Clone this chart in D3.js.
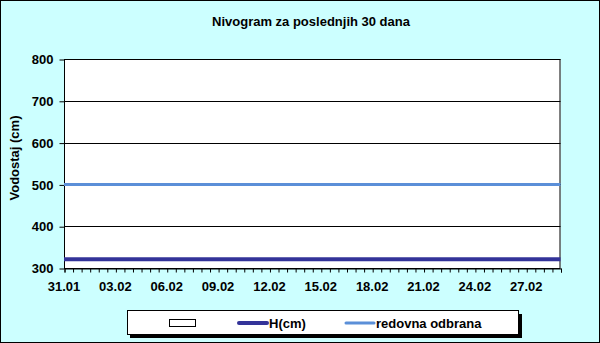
<!DOCTYPE html>
<html>
<head>
<meta charset="utf-8">
<script src="https://cdn.jsdelivr.net/npm/d3@7"></script>
<style>
  body { margin: 0; padding: 0; background: #fff; }
  svg { display: block; font-family: "Liberation Sans", Arial, sans-serif; }
</style>
</head>
<body>
<svg id="chart" width="600" height="343"></svg>
<script>
(function(d3) {
	'use strict';

	// dani (31.01 - 01.03)
	var days = ['31.01', '01.02', '02.02', '03.02', '04.02', '05.02', '06.02', '07.02', '08.02', '09.02',
		'10.02', '11.02', '12.02', '13.02', '14.02', '15.02', '16.02', '17.02', '18.02', '19.02',
		'20.02', '21.02', '22.02', '23.02', '24.02', '25.02', '26.02', '27.02', '28.02', '01.03'];
	// vodostaj H(cm)
	var levels = [321, 321, 321, 321, 321, 321, 321, 321, 321, 321,
		321, 321, 321, 321, 321, 321, 321, 321, 321, 321,
		321, 321, 321, 321, 321, 321, 321, 321, 321, 321];
	// redovna odbrana
	var defenceLevel = [500, 500, 500, 500, 500, 500, 500, 500, 500, 500,
		500, 500, 500, 500, 500, 500, 500, 500, 500, 500,
		500, 500, 500, 500, 500, 500, 500, 500, 500, 500];
	var yTicks = [300, 400, 500, 600, 700, 800];
	var xLabelDays = ['31.01', '03.02', '06.02', '09.02', '12.02', '15.02', '18.02', '21.02', '24.02', '27.02'];

	var parseDay = function(s) {
		var p = s.split('.');
		return new Date(2015, +p[1] - 1, +p[0]);
	};
	var dates = days.map(parseDay);

	var svg = d3.select('#chart');
	var W = 600, H = 343;
	var plot = {left: 64, right: 560.5, top: 59, bottom: 268};
	var hColor = '#333399', odbranaColor = '#5B8FD8';

	svg.append('rect').attr('x', 0.5).attr('y', 0.5).attr('width', W - 1).attr('height', H - 1)
		.attr('fill', '#CCFFFF').attr('stroke', '#000').attr('stroke-width', 1);

	var x = d3.scaleTime().domain([dates[0], dates[dates.length - 1]]).range([plot.left, plot.right]);
	var y = d3.scaleLinear().domain([300, 800]).range([plot.bottom, plot.top]);

	svg.append('rect').attr('x', plot.left).attr('y', plot.top)
		.attr('width', plot.right - plot.left).attr('height', plot.bottom - plot.top)
		.attr('fill', '#fff');

	// gridlines
	svg.append('g').selectAll('line').data(yTicks.slice(1)).enter().append('line')
		.attr('x1', plot.left).attr('x2', plot.right)
		.attr('y1', function(d) { return Math.round(y(d)) + 0.5; })
		.attr('y2', function(d) { return Math.round(y(d)) + 0.5; })
		.attr('stroke', '#000').attr('stroke-width', 1);

	svg.append('rect').attr('x', plot.left + 0.5).attr('y', plot.top + 0.5)
		.attr('width', plot.right - plot.left - 1).attr('height', plot.bottom - plot.top)
		.attr('fill', 'none').attr('stroke', '#000').attr('stroke-width', 1);

	// y axis
	var yAxis = d3.axisLeft(y).tickValues(yTicks).tickSize(5).tickPadding(6);
	var gy = svg.append('g').attr('transform', 'translate(' + (plot.left + 0.5) + ',0.5)').call(yAxis);
	gy.select('.domain').remove();
	gy.selectAll('text').attr('font-size', '13px').attr('font-weight', 'bold').attr('fill', '#000')
		.attr('font-family', '"Liberation Sans", Arial, sans-serif');

	// x axis: ticks every 12 h, labels every 3 days
	var xAxis = d3.axisBottom(x).ticks(d3.timeHour.every(12)).tickSize(4).tickFormat('');
	var gx = svg.append('g').attr('transform', 'translate(0.5,' + (plot.bottom + 0.5) + ')').call(xAxis);
	gx.select('.domain').attr('stroke', '#000');
	svg.append('g').selectAll('text').data(xLabelDays).enter().append('text')
		.attr('x', function(d) { return x(parseDay(d)); })
		.attr('y', 291)
		.attr('text-anchor', 'middle')
		.attr('font-size', '13px').attr('font-weight', 'bold')
		.text(function(d) { return d; });

	// series
	var line = d3.line()
		.x(function(d, i) { return x(dates[i]); })
		.y(function(d) { return y(d); });

	svg.append('path').datum(defenceLevel).attr('d', line)
		.attr('fill', 'none').attr('stroke', odbranaColor).attr('stroke-width', 3);
	svg.append('path').datum(levels).attr('d', line)
		.attr('fill', 'none').attr('stroke', hColor).attr('stroke-width', 4);

	// title
	svg.append('text').attr('x', 311).attr('y', 26).attr('text-anchor', 'middle')
		.attr('font-size', '13px').attr('font-weight', 'bold')
		.text('Nivogram za poslednjih 30 dana');

	// y label
	svg.append('text').attr('transform', 'translate(19,158) rotate(-90)')
		.attr('text-anchor', 'middle').attr('font-size', '13px').attr('font-weight', 'bold')
		.text('Vodostaj (cm)');

	// legend
	var lg = svg.append('g');
	lg.append('rect').attr('x', 130).attr('y', 314).attr('width', 392).attr('height', 24).attr('fill', '#000');
	lg.append('rect').attr('x', 127.5).attr('y', 310.5).attr('width', 391).attr('height', 24)
		.attr('fill', '#fff').attr('stroke', '#000').attr('stroke-width', 1);
	lg.append('rect').attr('x', 169.5).attr('y', 319.5).attr('width', 26).attr('height', 7)
		.attr('fill', '#fff').attr('stroke', '#000').attr('stroke-width', 1);
	var items = [
		{label: 'H(cm)', color: hColor, width: 4, x1: 239, x2: 267},
		{label: 'redovna odbrana', color: odbranaColor, width: 3, x1: 346, x2: 374}
	];
	items.forEach(function(it) {
		lg.append('line').attr('x1', it.x1).attr('x2', it.x2).attr('y1', 323).attr('y2', 323)
			.attr('stroke', it.color).attr('stroke-width', it.width).attr('stroke-linecap', 'round');
		lg.append('text').attr('x', it.x2 + 2).attr('y', 327.5)
			.attr('font-size', '13px').attr('font-weight', 'bold').text(it.label);
	});
})(d3);
</script>
</body>
</html>
